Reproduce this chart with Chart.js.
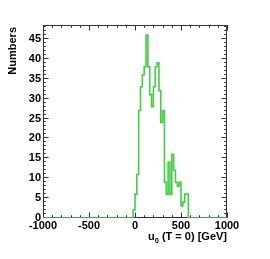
<!DOCTYPE html>
<html>
<head>
<meta charset="utf-8">
<script src="https://cdn.jsdelivr.net/npm/chart.js@4.4.1/dist/chart.umd.min.js"></script>
<style>
  html, body { margin: 0; padding: 0; background: #fff; }
</style>
</head>
<body>
<canvas id="c" width="270" height="259"></canvas>
<script>
// histogram: 20 GeV bins, counts for the bins starting at 0 GeV (all others empty)
const xRange = [-1000, 1000];
const binWidth = 20;
const firstFilledBin = 0;
const counts = [2, 6, 11, 27, 33, 36, 38, 46, 38, 31, 28, 33, 38, 39, 32, 24, 27, 9, 6, 14,
                6, 16, 12, 9, 8, 9, 3, 4, 6, 6];
const xTickLabels = [-1000, -500, 0, 500, 1000];
const yTickLabels = [0, 5, 10, 15, 20, 25, 30, 35, 40, 45];
const yMax = 48.5;

// step points: left edge of every bin, plus the closing edge
let pts = [];
for (let e = xRange[0]; e < xRange[1]; e += binWidth) {
    let i = Math.round((e - firstFilledBin) / binWidth);
    pts.push({ x: e, y: counts[i] !== undefined ? counts[i] : 0 });
}
pts.push({ x: xRange[1], y: 0 });

const FONT = 'bold 11px "Liberation Sans", Arial, sans-serif';
const SUBFONT = 'bold 7.5px "Liberation Sans", Arial, sans-serif';

const rootAxes = {
    id: 'rootAxes',
    beforeDatasetsDraw(chart) {
        const ctx = chart.ctx, a = chart.chartArea;
        const xs = chart.scales.x, ys = chart.scales.y;
        ctx.save();
        ctx.strokeStyle = '#333';
        ctx.lineWidth = 1;
        ctx.beginPath();
        // frame
        ctx.rect(Math.round(a.left) + 0.5, Math.round(a.top) + 0.5,
                 Math.round(a.right - a.left) - 1, Math.round(a.bottom - a.top) - 1);
        // x ticks (bottom and top, inward)
        for (let v = xRange[0]; v <= xRange[1]; v += 100) {
            let px = Math.round(xs.getPixelForValue(v)) + 0.5;
            let len = (v % 500 === 0) ? 5.5 : 2.8;
            ctx.moveTo(px, a.bottom); ctx.lineTo(px, a.bottom - len);
            ctx.moveTo(px, a.top); ctx.lineTo(px, a.top + len);
        }
        // y ticks (left and right, inward)
        for (let v = 0; v <= yMax; v += 1) {
            let py = Math.round(ys.getPixelForValue(v)) - 0.5;
            let len = (v % 5 === 0) ? 5.5 : 2.8;
            ctx.moveTo(a.left, py); ctx.lineTo(a.left + len, py);
            ctx.moveTo(a.right, py); ctx.lineTo(a.right - len, py);
        }
        ctx.stroke();
        ctx.restore();
    },
    afterDraw(chart) {
        const ctx = chart.ctx, a = chart.chartArea;
        const xs = chart.scales.x, ys = chart.scales.y;
        ctx.save();
        ctx.fillStyle = '#000';
        ctx.font = FONT;
        // x labels
        ctx.textAlign = 'center';
        ctx.textBaseline = 'top';
        xTickLabels.forEach(v => ctx.fillText(String(v), xs.getPixelForValue(v), a.bottom + 2));
        // y labels
        ctx.textAlign = 'right';
        ctx.textBaseline = 'middle';
        yTickLabels.forEach(v => ctx.fillText(String(v), a.left - 2, ys.getPixelForValue(v)));
        // x title, right aligned with subscript
        ctx.textBaseline = 'alphabetic';
        ctx.textAlign = 'left';
        const t1 = 'u', sub = '0', t2 = ' (T = 0) [GeV]';
        ctx.font = FONT;
        let w1 = ctx.measureText(t1).width, w2 = ctx.measureText(t2).width;
        ctx.font = SUBFONT;
        let ws = ctx.measureText(sub).width;
        let x0 = a.right - (w1 + ws + w2);
        let by = 240;
        ctx.font = FONT;
        ctx.fillText(t1, x0, by);
        ctx.font = SUBFONT;
        ctx.fillText(sub, x0 + w1, by + 2.5);
        ctx.font = FONT;
        ctx.fillText(t2, x0 + w1 + ws, by);
        // y title, rotated, right aligned to top
        ctx.translate(16, a.top + 2);
        ctx.rotate(-Math.PI / 2);
        ctx.textAlign = 'right';
        ctx.fillText('Numbers', 0, 0);
        ctx.restore();
    }
};

new Chart(document.getElementById('c'), {
    type: 'line',
    data: {
        datasets: [{
            data: pts,
            stepped: 'after',
            borderColor: 'rgb(70,205,70)',
            borderWidth: 1.6,
            fill: false,
            pointRadius: 0
        }]
    },
    options: {
        responsive: false,
        animation: false,
        devicePixelRatio: 1,
        layout: { padding: { left: 43, right: 43, top: 25, bottom: 41 } },
        scales: {
            x: { type: 'linear', min: xRange[0], max: xRange[1], display: false },
            y: { min: 0, max: yMax, display: false }
        },
        plugins: { legend: { display: false }, tooltip: { enabled: false } }
    },
    plugins: [rootAxes]
});
</script>
</body>
</html>
